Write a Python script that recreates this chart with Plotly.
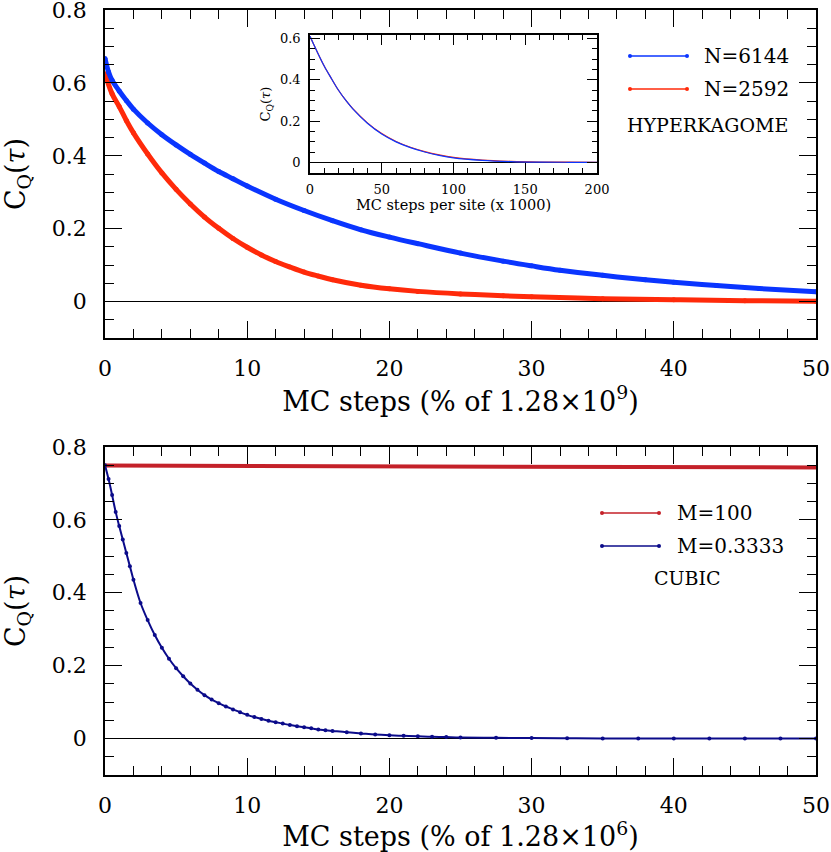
import plotly.graph_objects as go

# ---- top panel: hyperkagome, % of 1.28e9 MC steps ----
x_n6144 = [0, 0.25, 0.5, 1, 1.5, 2, 3, 4, 5, 6, 7, 8, 9, 10, 12, 14, 16, 18, 20,
           22, 25, 28, 30, 32, 35, 38, 40, 43, 46, 50]
c_n6144 = [0.667, 0.630, 0.607, 0.578, 0.552, 0.528, 0.490, 0.458, 0.430, 0.404,
           0.380, 0.357, 0.337, 0.317, 0.281, 0.250, 0.222, 0.197, 0.177, 0.159,
           0.133, 0.111, 0.098, 0.086, 0.072, 0.060, 0.053, 0.044, 0.036, 0.027]

x_n2592 = [0, 0.5, 1, 1.5, 2, 3, 4, 5, 6, 7, 8, 9, 10, 11, 12, 13, 14, 15, 16,
           18, 20, 22, 25, 28, 30, 35, 40, 45, 50]
c_n2592 = [0.625, 0.570, 0.535, 0.497, 0.463, 0.405, 0.353, 0.308, 0.268, 0.232,
           0.201, 0.173, 0.149, 0.128, 0.110, 0.095, 0.081, 0.070, 0.060, 0.045,
           0.035, 0.028, 0.021, 0.016, 0.013, 0.008, 0.005, 0.0025, 0.001]

# inset: MC steps per site (x 1000)
x_inset = [0, 2, 5, 10, 15, 20, 25, 30, 40, 50, 60, 70, 80, 90, 100, 120, 140,
           160, 180, 200]
c_inset_6144 = [0.610, 0.580, 0.535, 0.465, 0.405, 0.348, 0.300, 0.258, 0.190,
                0.138, 0.100, 0.072, 0.051, 0.035, 0.023, 0.011, 0.005, 0.0025,
                0.0015, 0.001]
c_inset_2592 = [0.610, 0.580, 0.535, 0.465, 0.405, 0.348, 0.300, 0.259, 0.192,
                0.140, 0.102, 0.074, 0.053, 0.037, 0.025, 0.012, 0.006, 0.003,
                0.0018, 0.001]

# ---- bottom panel: cubic, % of 1.28e6 MC steps ----
x_m100 = [0, 10, 20, 30, 40, 50]
c_m100 = [0.749, 0.748, 0.747, 0.746, 0.745, 0.744]

x_m03 = [0, 0.25, 0.5, 0.75, 1, 1.25, 1.5, 1.75, 2, 2.5, 3, 3.5, 4, 4.5, 5, 5.5,
         6, 6.5, 7, 7.5, 8, 8.5, 9, 9.5, 10, 10.5, 11, 11.5, 12, 12.5, 13, 13.5,
         14, 14.5, 15, 15.5, 16, 17, 18, 19, 20, 21, 22, 23, 24, 25, 27.5, 30,
         32.5, 35, 37.5, 40, 42.5, 45, 47.5, 50]
c_m03 = [0.750, 0.712, 0.668, 0.622, 0.583, 0.546, 0.509, 0.473, 0.436, 0.372,
         0.325, 0.284, 0.249, 0.219, 0.193, 0.171, 0.151, 0.134, 0.119, 0.107,
         0.097, 0.088, 0.080, 0.072, 0.065, 0.059, 0.054, 0.049, 0.045, 0.041,
         0.037, 0.034, 0.031, 0.028, 0.025, 0.023, 0.021, 0.017, 0.014, 0.011,
         0.009, 0.0075, 0.006, 0.005, 0.004, 0.003, 0.002, 0.0012, 0.0008,
         0.0005, 0.0004, 0.0003, 0.0002, 0.0002, 0.0001, 0.0001]

BLUE = '#0a35ff'
RED = '#ff2a0a'
DRED = '#c42129'
NAVY = '#0b0b8a'
FONT = 'DejaVu Serif'

fig = go.Figure()

fig.add_trace(go.Scatter(x=x_n2592, y=c_n2592, mode='lines+markers', line_shape='spline',
                         line=dict(color=RED, width=5), marker=dict(color=RED, size=5),
                         xaxis='x', yaxis='y', showlegend=False))
fig.add_trace(go.Scatter(x=x_n6144, y=c_n6144, mode='lines+markers', line_shape='spline',
                         line=dict(color=BLUE, width=5), marker=dict(color=BLUE, size=5),
                         xaxis='x', yaxis='y', showlegend=False))

fig.add_trace(go.Scatter(x=x_inset, y=c_inset_2592, mode='lines', line_shape='spline',
                         line=dict(color=RED, width=1.2), xaxis='x3', yaxis='y3',
                         showlegend=False))
fig.add_trace(go.Scatter(x=x_inset, y=c_inset_6144, mode='lines', line_shape='spline',
                         line=dict(color=BLUE, width=1.2), xaxis='x3', yaxis='y3',
                         showlegend=False))

fig.add_trace(go.Scatter(x=x_m100, y=c_m100, mode='lines', line=dict(color=DRED, width=4),
                         xaxis='x2', yaxis='y2', showlegend=False))
fig.add_trace(go.Scatter(x=x_m03, y=c_m03, mode='lines+markers', line_shape='spline',
                         line=dict(color=NAVY, width=2), marker=dict(color=NAVY, size=4),
                         xaxis='x2', yaxis='y2', showlegend=False))


def frame(size, major, minor, **kw):
    d = dict(showline=True, linecolor='black', linewidth=1.5, mirror='allticks',
             ticks='inside', ticklen=major, tickwidth=1.4, tickcolor='black',
             showgrid=False, zeroline=False, automargin=False,
             ticklabeloverflow='allow',
             tickfont=dict(family=FONT, size=size, color='black'),
             minor=dict(ticks='inside', ticklen=minor, tickwidth=1.4,
                        tickcolor='black', showgrid=False))
    d.update(kw)
    return d


title_font = dict(family=FONT, size=27, color='black')
ytitle = dict(text='C<sub>Q</sub>(<i>τ</i>)', font=title_font, standoff=27)

xa = frame(22, 17, 9, range=[0, 50], dtick=10, ticklabelstandoff=10)
xa['minor'].update(dtick=2)
ya = frame(22, 17, 9, range=[-0.1, 0.8001], dtick=0.2, ticklabelstandoff=12,
           zeroline=True, zerolinecolor='black', zerolinewidth=1)
ya['minor'].update(dtick=0.05)

fig.update_layout(
    width=831, height=852,
    margin=dict(l=105, r=15, t=10, b=77),
    paper_bgcolor='white', plot_bgcolor='white',
    xaxis=dict(xa, domain=[0, 1], anchor='y',
               title=dict(text='MC steps (% of 1.28×10<sup>9</sup>)', font=title_font,
                          standoff=11)),
    yaxis=dict(ya, domain=[0.5712, 1], anchor='x', title=ytitle),
    xaxis2=dict(xa, domain=[0, 1], anchor='y2',
                title=dict(text='MC steps (% of 1.28×10<sup>6</sup>)', font=title_font,
                           standoff=11)),
    yaxis2=dict(ya, domain=[0, 0.4288], anchor='x2', title=ytitle),
)

xi = frame(13, 10, 5, range=[0, 200], dtick=50, ticklabelstandoff=4)
xi['minor'].update(dtick=10)
yi = frame(13, 10, 5, range=[-0.05, 0.615], dtick=0.2, ticklabelstandoff=5,
           zeroline=True, zerolinecolor='black', zerolinewidth=1)
yi['minor'].update(dtick=0.05)
fig.update_layout(
    xaxis3=dict(xi, domain=[0.2883, 0.692], anchor='y3',
                title=dict(text='MC steps per site (x 1000)',
                           font=dict(family=FONT, size=14.5, color='black'), standoff=4)),
    yaxis3=dict(yi, domain=[0.787, 0.967], anchor='x3',
                title=dict(text='C<sub>Q</sub>(<i>τ</i>)',
                           font=dict(family=FONT, size=13, color='black'), standoff=6)),
)

# hand-drawn key entries (line with end dots + label); screen pixels -> paper
def px(x):
    return (x - 105) / 711


def py(y):
    return (775 - y) / 765


keys = [(630, 687, 56, BLUE, 'N=6144', 702),
        (630, 687, 89, RED, 'N=2592', 702),
        (602, 659, 513, DRED, 'M=100', 675),
        (602, 659, 546, NAVY, 'M=0.3333', 675)]
for x0, x1, y, col, label, tx in keys:
    fig.add_shape(type='line', xref='paper', yref='paper', x0=px(x0), x1=px(x1),
                  y0=py(y), y1=py(y), line=dict(color=col, width=1.3))
    for xe in (x0, x1):
        fig.add_shape(type='circle', xref='paper', yref='paper',
                      x0=px(xe - 2), x1=px(xe + 2), y0=py(y + 2), y1=py(y - 2),
                      fillcolor=col, line=dict(width=0))
    fig.add_annotation(text=label, xref='paper', yref='paper', x=px(tx), y=py(y),
                       xanchor='left', yanchor='middle', showarrow=False,
                       font=dict(family=FONT, size=20, color='black'))

fig.add_annotation(text='HYPERKAGOME', xref='paper', yref='paper', x=px(707), y=py(125),
                   xanchor='center', yanchor='middle', showarrow=False,
                   font=dict(family=FONT, size=19, color='black'))
fig.add_annotation(text='CUBIC', xref='paper', yref='paper', x=px(687), y=py(578),
                   xanchor='center', yanchor='middle', showarrow=False,
                   font=dict(family=FONT, size=19, color='black'))

# drop the browser's default 8px body margin so the figure fills the window
fig.write_html('out.html', config={'displayModeBar': False},
               post_script="document.body.style.margin='0px';")
